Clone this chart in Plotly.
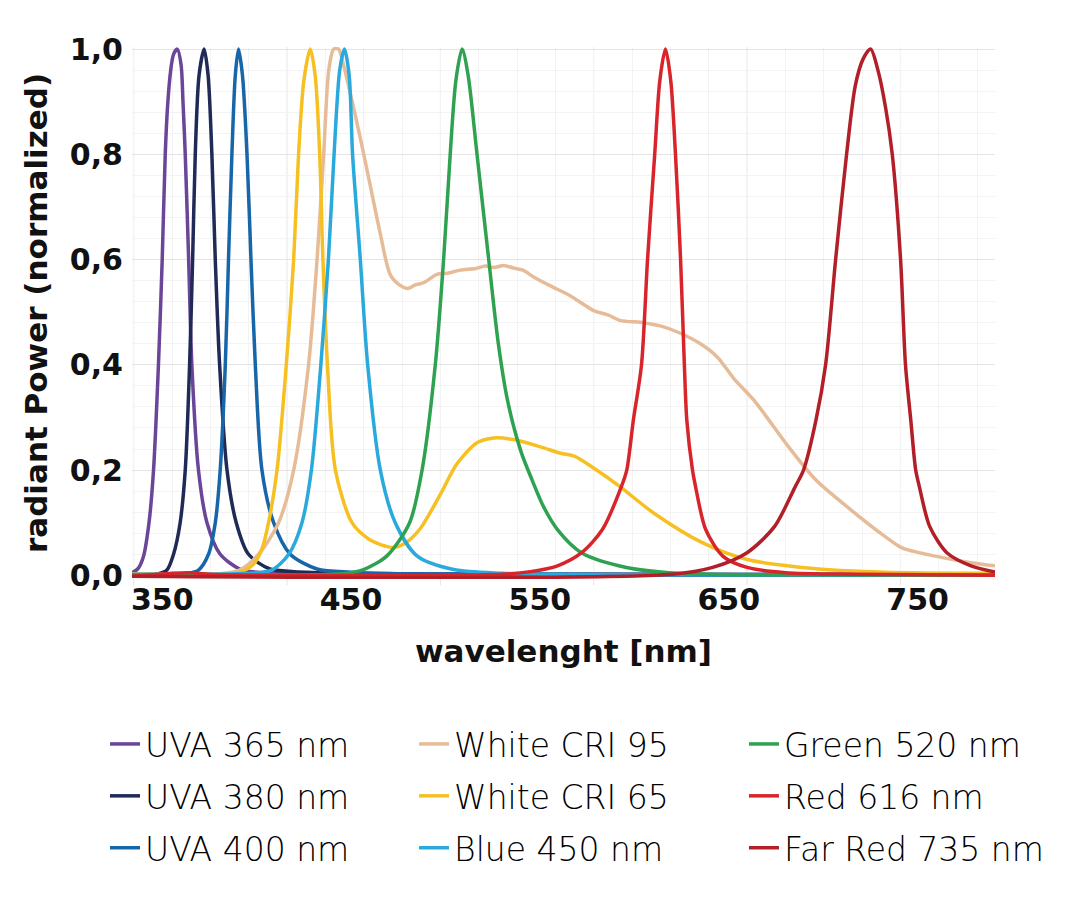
import plotly.graph_objects as go

# wavelength [nm] / normalized radiant power
UVA365_NM = [334, 337, 340, 343, 345.4, 348, 350, 351.6, 353, 354.5, 356, 358, 360, 361, 362.2, 364, 365.7, 369.2, 373.7, 380.7, 391, 400, 420, 450, 500, 600, 791]
UVA365_P = [0.005, 0.012, 0.035, 0.10, 0.2, 0.4, 0.6, 0.8, 0.9, 0.96, 0.99, 1.0, 0.97, 0.9, 0.8, 0.6, 0.4, 0.2, 0.1, 0.04, 0.012, 0.006, 0.003, 0.002, 0.001, 0.0, 0.0]

UVA380_NM = [334, 348, 352.5, 356, 359.5, 362.2, 364.5, 366.1, 367.5, 369.5, 372.2, 374.3, 376.3, 378.1, 380.4, 384.3, 389.2, 395.7, 407, 420, 450, 500, 791]
UVA380_P = [0.002, 0.003, 0.01, 0.04, 0.1, 0.2, 0.4, 0.6, 0.8, 0.95, 1.0, 0.95, 0.8, 0.6, 0.4, 0.2, 0.1, 0.04, 0.012, 0.007, 0.004, 0.002, 0.001]

UVA400_NM = [334, 362, 369.2, 374.5, 378.1, 380.7, 383.4, 385.1, 386.9, 388.7, 390.4, 392.5, 394.9, 397, 399.3, 402.8, 409, 417.8, 432, 450, 480, 791]
UVA400_P = [0.002, 0.003, 0.01, 0.04, 0.1, 0.2, 0.4, 0.6, 0.8, 0.95, 1.0, 0.95, 0.8, 0.6, 0.4, 0.2, 0.1, 0.04, 0.012, 0.006, 0.003, 0.001]

CRI95_NM = [334, 380, 391, 401, 411.6, 419.6, 427.5, 432, 435.5, 438.2, 440.8, 443.4, 446, 449.6, 454.9, 460.2, 465.5, 470.8, 476, 480, 484, 488.4,
            495.5, 501, 507.9, 516, 521, 525.5, 531, 536, 541, 546.7, 555.6, 566.2, 578.5, 586, 592.7, 603.3, 608, 613.8, 624.4, 635, 643.9, 652.7,
            663.3, 673.9, 680, 696.2, 714.5, 732.7, 741.8, 760, 778.3, 791]
CRI95_P = [0.003, 0.003, 0.01, 0.04, 0.1, 0.2, 0.4, 0.6, 0.8, 0.96, 1.0, 1.0, 0.97, 0.916, 0.831, 0.74, 0.649, 0.571, 0.551, 0.545, 0.552, 0.556,
           0.572, 0.574, 0.580, 0.583, 0.588, 0.585, 0.589, 0.584, 0.580, 0.567, 0.550, 0.531, 0.503, 0.495, 0.484, 0.481, 0.478, 0.474, 0.460, 0.440, 0.415, 0.374,
           0.333, 0.282, 0.252, 0.181, 0.125, 0.074, 0.052, 0.036, 0.024, 0.018]

CRI65_NM = [334, 390, 398, 402.8, 406.3, 410.8, 415.7, 419.6, 422.2, 425, 428.4, 431, 433.4, 435.1, 437.5, 441.7, 450.5, 459.3, 466, 472.5, 479,
            486.7, 497.3, 506.1, 516.7, 525.5, 536.1, 550.3, 560.9, 568.5, 580, 592.2, 610.4, 636, 659.7, 696.2, 732.7, 791]
CRI65_P = [0.003, 0.005, 0.02, 0.05, 0.1, 0.2, 0.4, 0.6, 0.8, 0.94, 1.0, 0.95, 0.8, 0.6, 0.4, 0.2, 0.1, 0.069, 0.058, 0.053, 0.062,
           0.089, 0.154, 0.212, 0.252, 0.261, 0.258, 0.244, 0.232, 0.226, 0.2, 0.169, 0.118, 0.062, 0.030, 0.0126, 0.006, 0.004]

BLUE450_NM = [334, 395, 408, 417, 424, 429, 434, 438, 441, 444, 446.5, 449, 450.8, 454.9, 458.8, 465.5, 473.4, 484.9, 504.3, 530, 791]
BLUE450_P = [0.002, 0.004, 0.01, 0.04, 0.1, 0.2, 0.4, 0.6, 0.8, 0.96, 1.0, 0.95, 0.8, 0.6, 0.4, 0.2, 0.1, 0.037, 0.011, 0.004, 0.001]

GREEN520_NM = [334, 430, 445, 456.6, 469, 481, 487.6, 494.6, 499, 502.5, 505.5, 508.8, 512, 516.7, 522.9, 528, 533, 540, 546, 552, 559.3, 572, 595.8, 623, 660, 791]
GREEN520_P = [0.001, 0.001, 0.003, 0.011, 0.037, 0.1, 0.2, 0.4, 0.6, 0.8, 0.94, 1.0, 0.95, 0.8, 0.6, 0.44, 0.33, 0.235, 0.18, 0.13, 0.087, 0.043, 0.015, 0.004, 0.001, 0.0]

RED616_NM = [334, 355, 365, 375, 400, 530, 545, 559.3, 572.1, 583.1, 593.2, 596, 599.5, 603.8, 607, 610.8, 613.5, 616.5, 619.3, 621.8, 624.5, 626.5,
             627.8, 630.8, 632.4, 637.8, 647, 659.7, 680, 720, 791]
RED616_P = [-0.002, 0.004, 0.005, 0.002, 0.0, 0.002, 0.007, 0.018, 0.043, 0.087, 0.169, 0.2, 0.295, 0.4, 0.6, 0.8, 0.94, 1.0, 0.94, 0.8, 0.6, 0.4,
            0.295, 0.2, 0.169, 0.087, 0.036, 0.015, 0.005, 0.002, 0.0]

FARRED735_NM = [334, 620, 641.5, 659.7, 674.3, 685.3, 689.6, 696.2, 701.3, 706.6, 712.4, 717, 721, 725.1, 729, 733, 736.6, 741, 743.6, 746.4, 749, 750.9,
                756.4, 765.5, 778.3, 791]
FARRED735_P = [-0.002, 0.002, 0.015, 0.043, 0.093, 0.169, 0.2, 0.295, 0.4, 0.6, 0.8, 0.93, 0.98, 1.0, 0.96, 0.89, 0.8, 0.6, 0.4, 0.295, 0.2, 0.169,
               0.093, 0.043, 0.018, 0.006]

# name, x, y, colour, legend column, rank inside the column
SERIES = [
    ('UVA 365 nm', UVA365_NM, UVA365_P, '#6a4598', 'legend', 1),
    ('UVA 380 nm', UVA380_NM, UVA380_P, '#1f2a56', 'legend', 2),
    ('UVA 400 nm', UVA400_NM, UVA400_P, '#1766aa', 'legend', 3),
    ('White CRI 95', CRI95_NM, CRI95_P, '#e6bc98', 'legend2', 1),
    ('White CRI 65', CRI65_NM, CRI65_P, '#f6c022', 'legend2', 2),
    ('Blue 450 nm', BLUE450_NM, BLUE450_P, '#2aa9dc', 'legend2', 3),
    ('Green 520 nm', GREEN520_NM, GREEN520_P, '#2ea251', 'legend3', 1),
    ('Red 616 nm', RED616_NM, RED616_P, '#d8252b', 'legend3', 2),
    ('Far Red 735 nm', FARRED735_NM, FARRED735_P, '#b21f28', 'legend3', 3),
]

X_TICKS = [350, 450, 550, 650, 750]
Y_TICKS = [0.0, 0.2, 0.4, 0.6, 0.8, 1.0]

fig = go.Figure()
for name, xs, ys, color, leg, rank in SERIES:
    fig.add_trace(go.Scatter(
        x=xs, y=ys, mode='lines', name=name, legend=leg, legendrank=rank, legendgroup=name,
        line=dict(color=color, width=3.5, shape='spline', smoothing=0.8),
    ))

# darker vertical grid lines with small tick marks (every 4th minor line)
for k in range(-3, 3):
    gx = 578.5 + k * 81.2
    if 334 < gx < 791:
        fig.add_shape(type='line', xref='x', yref='paper', x0=gx, x1=gx, y0=-0.012, y1=1,
                      line=dict(color='#e4e4e4', width=1), layer='below')

bold = dict(family='DejaVu Sans', size=30, color='#111111', weight='bold')
title_font = dict(family='DejaVu Sans', size=31, color='#111111', weight='bold')
leg_font = dict(family='DejaVu Sans', size=33, color='#000000', weight=200)


def legend_col(x):
    return dict(orientation='v', x=x, xanchor='left', y=-0.2575, yanchor='top',
                font=leg_font, itemwidth=30, tracegroupgap=6, bgcolor='rgba(0,0,0,0)')


fig.update_layout(
    width=1072, height=894,
    margin=dict(l=124, r=85, t=39, b=323),
    paper_bgcolor='white', plot_bgcolor='white',
    separators=',.',
    showlegend=True,
    legend=legend_col(-0.0313),
    legend2=legend_col(0.3268),
    legend3=legend_col(0.7091),
    xaxis=dict(
        range=[334, 791], tickvals=X_TICKS, ticks='', showgrid=False, zeroline=False,
        showline=False, tickfont=bold,
        title=dict(text='wavelenght [nm]', font=title_font, standoff=24),
        minor=dict(tick0=578.5, dtick=20.3, showgrid=True, gridcolor='#f3f3f3', gridwidth=1),
    ),
    yaxis=dict(
        range=[-0.007, 1.004], tickvals=Y_TICKS, tickformat='.1f', ticks='', zeroline=False,
        showline=False, showgrid=True, gridcolor='#e4e4e4', gridwidth=1, tickfont=bold,
        ticklabelstandoff=8,
        title=dict(text='radiant Power (normalized)', font=title_font, standoff=12),
        minor=dict(dtick=0.04, showgrid=True, gridcolor='#f3f3f3', gridwidth=1),
    ),
)

fig.write_html("out.html")
